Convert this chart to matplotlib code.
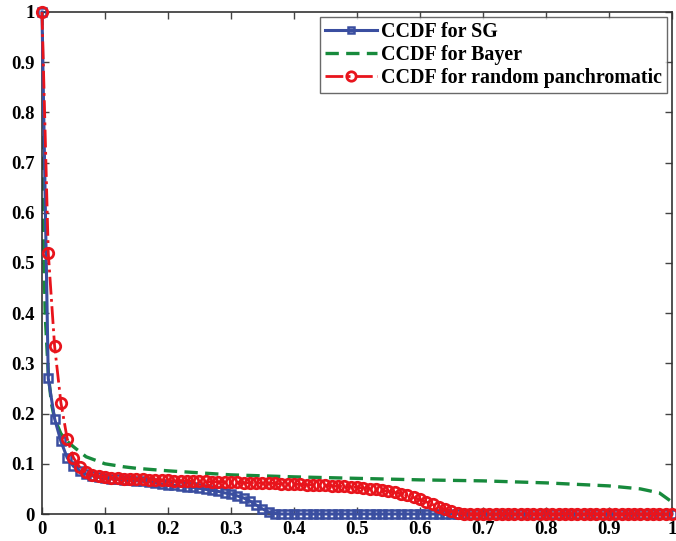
import numpy as np
import matplotlib
matplotlib.use("Agg")
import matplotlib.pyplot as plt

x_grid = [round(i * 0.01, 2) for i in range(101)]

sg_ccdf = [1.0, 0.27, 0.19, 0.145, 0.112, 0.095, 0.086, 0.080, 0.076, 0.073,
           0.071, 0.070, 0.069, 0.068, 0.067, 0.066, 0.065, 0.064, 0.062, 0.060,
           0.058, 0.057, 0.056, 0.054, 0.053, 0.051, 0.049, 0.047, 0.045, 0.042,
           0.040, 0.036, 0.032, 0.026, 0.018, 0.010, 0.004, 0.001] + [0.0] * 63

pan_ccdf = [1.0, 0.52, 0.335, 0.222, 0.15, 0.112, 0.093, 0.083, 0.078, 0.075,
            0.073,
            0.072, 0.071, 0.070, 0.070, 0.069, 0.069, 0.068, 0.068, 0.067, 0.067,
            0.066, 0.066, 0.066, 0.065, 0.065, 0.065, 0.064, 0.064, 0.064, 0.063,
            0.063, 0.062, 0.062, 0.062, 0.061, 0.061, 0.061, 0.060, 0.060, 0.059,
            0.059, 0.058, 0.058, 0.057, 0.057, 0.056, 0.055, 0.055, 0.054, 0.053,
            0.052, 0.050, 0.049, 0.047, 0.045, 0.043, 0.040, 0.037, 0.033, 0.029,
            0.024, 0.019, 0.014, 0.009, 0.005, 0.002, 0.0, 0.0, 0.0, 0.0] + [0.0] * 30

bayer_x = [0, 0.002, 0.005, 0.01, 0.015, 0.02, 0.03, 0.04, 0.05, 0.07, 0.1, 0.13,
           0.15, 0.2, 0.3, 0.4, 0.5, 0.6, 0.7, 0.8, 0.9, 0.95, 0.98, 1.0]
bayer_ccdf = [1.0, 0.6, 0.4, 0.28, 0.22, 0.19, 0.16, 0.145, 0.134, 0.114, 0.10, 0.094,
              0.091, 0.086, 0.078, 0.074, 0.071, 0.068, 0.066, 0.062, 0.056, 0.050,
              0.042, 0.024]

labels = ["CCDF for SG", "CCDF for Bayer", "CCDF for random panchromatic"]
xticks = [0, 0.1, 0.2, 0.3, 0.4, 0.5, 0.6, 0.7, 0.8, 0.9, 1]
xticklabels = ["0", "0.1", "0.2", "0.3", "0.4", "0.5", "0.6", "0.7", "0.8", "0.9", "1"]
yticks = xticks
yticklabels = xticklabels

plt.rcParams['font.family'] = ['Liberation Serif', 'DejaVu Serif']
plt.rcParams['font.weight'] = 'bold'

fig = plt.figure(figsize=(6.76, 5.41), dpi=100)
ax = fig.add_axes([0.0621, 0.0499, 0.9319, 0.928])

blue = '#3a4ea0'
green = '#178a3c'
red = '#e8141c'

ax.plot(x_grid, sg_ccdf, '-', color=blue, lw=2.2, marker='s', ms=5.5,
        mfc='none', mec=blue, mew=1.8, label=labels[0], zorder=3, clip_on=False)
ax.plot(bayer_x, bayer_ccdf, '--', color=green, lw=2.4, dashes=(4, 2.2),
        label=labels[1], zorder=2)
ax.plot(x_grid, pan_ccdf, '-.', color=red, lw=2.0, marker='o', ms=7.5,
        mfc='none', mec=red, mew=2.0, label=labels[2], zorder=4, clip_on=False)

ax.set_xlim(0, 1)
ax.set_ylim(0, 1)
ax.set_xticks(xticks)
ax.set_xticklabels(xticklabels)
ax.set_yticks(yticks)
ax.set_yticklabels(yticklabels)
ax.tick_params(direction='in', top=True, right=True, length=5, width=1,
               labelsize=13.5, pad=5, color='#444444')
for lab in ax.get_xticklabels() + ax.get_yticklabels():
    lab.set_fontweight('bold')
for s in ax.spines.values():
    s.set_linewidth(1.2)
    s.set_color('#333333')

leg = ax.legend(loc='upper right', fontsize=14.4, frameon=True, fancybox=False,
                handlelength=2.6, borderpad=0.25, labelspacing=0.15,
                handletextpad=0.2, borderaxespad=0.25, markerscale=0.9)
leg.get_frame().set_edgecolor('#444444')
leg.get_frame().set_linewidth(1.0)
leg.set_zorder(10)
for t in leg.get_texts():
    t.set_fontweight('bold')

fig.savefig('out.png', dpi=100)
